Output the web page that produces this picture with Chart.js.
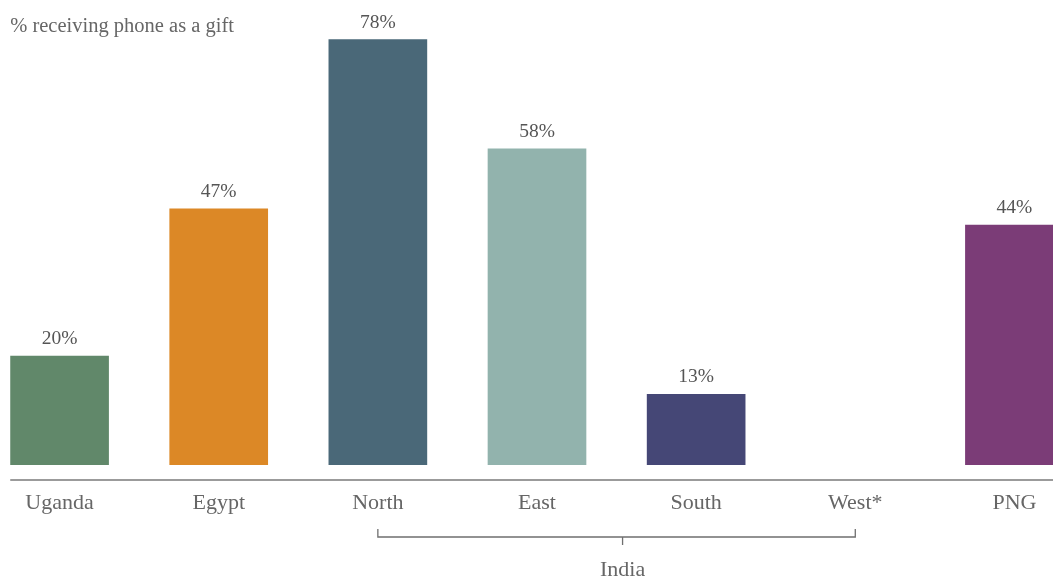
<!DOCTYPE html>
<html>
<head>
<meta charset="utf-8">
<script src="https://cdn.jsdelivr.net/npm/chart.js@4/dist/chart.umd.min.js"></script>
<style>
  html, body { margin: 0; padding: 0; background: #fff; overflow: hidden; }
  body { width: 1053px; height: 577px; position: relative; }
  /* the chart is wider than the window: first and last columns run past the edges */
  #wrap { position: absolute; left: -20px; top: 0; width: 1114px; height: 577px; }
</style>
</head>
<body>
<div id="wrap"><canvas id="giftChart"></canvas></div>
<script>
// % of owners who received their phone as a gift
const categories = ['Uganda', 'Egypt', 'North', 'East', 'South', 'West*', 'PNG'];
const giftShare = [20, 47, 78, 58, 13, null, 44]; // no value for West*
const barColors = ['#61886a', '#dc8826', '#4a6878', '#92b3ad', '#454776', '#999999', '#7b3c77'];
const groupName = 'India';
const groupFrom = 'North';
const groupTo = 'West*';
const chartTitle = '% receiving phone as a gift';

const SERIF = '"Liberation Serif", "DejaVu Serif", serif';

// value labels, title, baseline and the India bracket
const annotations = {
    id: 'annotations',
    afterDatasetsDraw(chart) {
        const ctx = chart.ctx;
        const x = chart.scales.x;
        const area = chart.chartArea;
        ctx.save();

        // value labels above bars
        ctx.fillStyle = '#555';
        ctx.font = '19.5px ' + SERIF;
        ctx.textAlign = 'center';
        ctx.textBaseline = 'bottom';
        chart.getDatasetMeta(0).data.forEach((bar, i) => {
            if (giftShare[i] == null) return;
            ctx.fillText(giftShare[i] + '%', bar.x, bar.y - 7);
        });

        // title top left
        ctx.fillStyle = '#666';
        ctx.font = '20.5px ' + SERIF;
        ctx.textAlign = 'left';
        ctx.textBaseline = 'middle';
        const firstLeft = x.getPixelForValue(0) - chart.getDatasetMeta(0).data[0].width / 2;
        ctx.fillText(chartTitle, firstLeft, 27);

        // baseline under the bars
        ctx.strokeStyle = '#7a7a7a';
        ctx.lineWidth = 1.5;
        ctx.beginPath();
        ctx.moveTo(firstLeft, area.bottom + 15);
        ctx.lineTo(chart.width, area.bottom + 15);
        ctx.stroke();

        // bracket grouping India regions
        const x1 = x.getPixelForValue(categories.indexOf(groupFrom));
        const x2 = x.getPixelForValue(categories.indexOf(groupTo));
        const mid = (x1 + x2) / 2 + 6;
        const by = area.bottom + 72;
        ctx.strokeStyle = '#6f6f6f';
        ctx.lineWidth = 1.3;
        ctx.beginPath();
        ctx.moveTo(x1, by - 8);
        ctx.lineTo(x1, by);
        ctx.lineTo(x2, by);
        ctx.lineTo(x2, by - 8);
        ctx.moveTo(mid, by);
        ctx.lineTo(mid, by + 8);
        ctx.stroke();

        ctx.fillStyle = '#666';
        ctx.font = '22px ' + SERIF;
        ctx.textAlign = 'center';
        ctx.textBaseline = 'middle';
        ctx.fillText(groupName, mid, by + 33);
        ctx.restore();
    }
};

const ctxGift = document.getElementById('giftChart').getContext('2d');
const giftChart = new Chart(ctxGift, {
    type: 'bar',
    data: {
        labels: categories,
        datasets: [{
            label: chartTitle,
            data: giftShare,
            backgroundColor: barColors,
            borderWidth: 0,
            barPercentage: 0.62,
            categoryPercentage: 1.0
        }]
    },
    options: {
        responsive: true,
        maintainAspectRatio: false,
        animation: false,
        layout: { padding: { top: 1, bottom: 35.6, left: 0, right: 0 } },
        scales: {
            x: {
                grid: { display: false, drawTicks: false },
                border: { display: false },
                ticks: {
                    color: '#666',
                    font: { family: SERIF, size: 22 },
                    padding: 25,
                    maxRotation: 0,
                    autoSkip: false
                }
            },
            y: {
                display: false,
                min: 0,
                max: 85
            }
        },
        plugins: {
            legend: { display: false },
            tooltip: { enabled: false }
        }
    },
    plugins: [annotations]
});
</script>
</body>
</html>
